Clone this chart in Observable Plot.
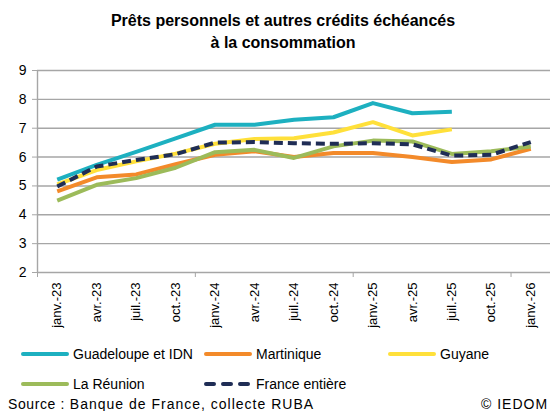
<!DOCTYPE html>
<html><head><meta charset="utf-8">
<script src="https://cdn.jsdelivr.net/npm/d3@7"></script>
<script src="https://cdn.jsdelivr.net/npm/@observablehq/plot@0.6"></script>
<style>
body{margin:0;background:#fff;font-family:"Liberation Sans",Arial,sans-serif;color:#000}
#wrap{position:relative;width:553px;height:411px;overflow:hidden;background:#fff}
#title{position:absolute;left:0;width:566px;top:10px;text-align:center;font-weight:bold;font-size:16px;line-height:22px}
#unit{position:absolute;left:38px;top:53px;font-style:italic;font-size:14px}
#chart{position:absolute;left:0;top:50px}
.leg{position:absolute;display:flex;align-items:center;font-size:14px;white-space:nowrap}
.leg svg{margin-right:3px}
#source{position:absolute;left:8px;top:396px;font-size:14px;white-space:nowrap;letter-spacing:1px}
#source span{letter-spacing:0.6px}
#copy{position:absolute;left:481px;top:396px;font-size:14px;white-space:nowrap;letter-spacing:1px}
</style></head>
<body><div id="wrap">
<div id="title">Prêts personnels et autres crédits échéancés<br>à la consommation</div>
<div id="unit">En %</div>
<div id="chart"></div>
<div id="legend"></div>
<div id="source"><span>Source :</span> Banque de France, collecte RUBA</div>
<div id="copy">© IEDOM</div>
</div>
<script>
const labels = ["janv.-23","avr.-23","juil.-23","oct.-23","janv.-24","avr.-24","juil.-24","oct.-24","janv.-25","avr.-25","juil.-25","oct.-25","janv.-26"];
const guadeloupe = [5.22,5.73,6.18,6.65,7.12,7.12,7.29,7.38,7.87,7.52,7.57,null,null];
const martinique = [4.81,5.30,5.40,5.75,6.08,6.20,6.00,6.14,6.14,6.00,5.83,5.92,6.29];
const guyane     = [5.05,5.55,5.85,6.12,6.46,6.63,6.65,6.85,7.21,6.75,6.96,null,null];
const reunion    = [4.49,5.04,5.27,5.63,6.17,6.25,5.97,6.37,6.57,6.54,6.11,6.20,6.37];
const france     = [4.98,5.67,5.90,6.10,6.50,6.52,6.48,6.46,6.48,6.44,6.05,6.08,6.52];
const yTicks = [2,3,4,5,6,7,8,9];

const series = [
  {name:"Guadeloupe et IDN", values:guadeloupe, color:"#1DB0C0", dash:null},
  {name:"Martinique", values:martinique, color:"#F38A2A", dash:null},
  {name:"Guyane", values:guyane, color:"#FFE03A", dash:null},
  {name:"La Réunion", values:reunion, color:"#9CBB5A", dash:null},
  {name:"France entière", values:france, color:"#1F2D55", dash:"9,5"}
];
const legendPos = [
  {left:20, top:345},{left:203, top:345},{left:387, top:345},
  {left:20, top:375},{left:203, top:375}
];

const grid = "#a6a6a6";
const chart = Plot.plot({
  width:553, height:290,
  marginTop:20, marginBottom:68, marginLeft:37, marginRight:3,
  x:{type:"linear", domain:[-0.5, labels.length-0.5]},
  y:{domain:[yTicks[0], yTicks[yTicks.length-1]]},
  style:{fontFamily:"'Liberation Sans', Arial, sans-serif", color:"#000", background:"#fff"},
  marks:[
    Plot.gridY(yTicks, {stroke:grid, strokeOpacity:1, strokeWidth:1.4}),
    Plot.ruleX([-0.5], {stroke:grid, strokeWidth:1.4}),
    Plot.axisY(yTicks, {tickSize:5, tickPadding:6, fontSize:14, stroke:grid, fill:"#000"}),
    Plot.axisX(d3.range(labels.length), {tickSize:0, tickPadding:10, tickRotate:-90, fontSize:13, fill:"#000", tickFormat:i=>labels[i]}),
    Plot.axisX(d3.range(-0.5, labels.length, 4), {tickSize:5, stroke:grid, tickFormat:()=>""}),
    ...series.map(s => Plot.lineY(s.values, {
      x:(d,i)=>i, y:d=>d, stroke:s.color, strokeWidth:4,
      strokeDasharray:s.dash, strokeLinejoin:"round", strokeLinecap:"butt"
    }))
  ]
});
document.getElementById("chart").appendChild(chart);

const legend = document.getElementById("legend");
series.forEach((s, k) => {
  const div = document.createElement("div");
  div.className = "leg";
  div.style.left = legendPos[k].left + "px";
  div.style.top = legendPos[k].top + "px";
  const dash = s.dash ? 'stroke-dasharray="8,9"' : '';
  div.innerHTML = `<svg width="50" height="18"><line x1="3" x2="47" y1="9" y2="9" stroke="${s.color}" stroke-width="4" stroke-linecap="round" ${dash}/></svg><span>${s.name}</span>`;
  legend.appendChild(div);
});
</script>
</body></html>
